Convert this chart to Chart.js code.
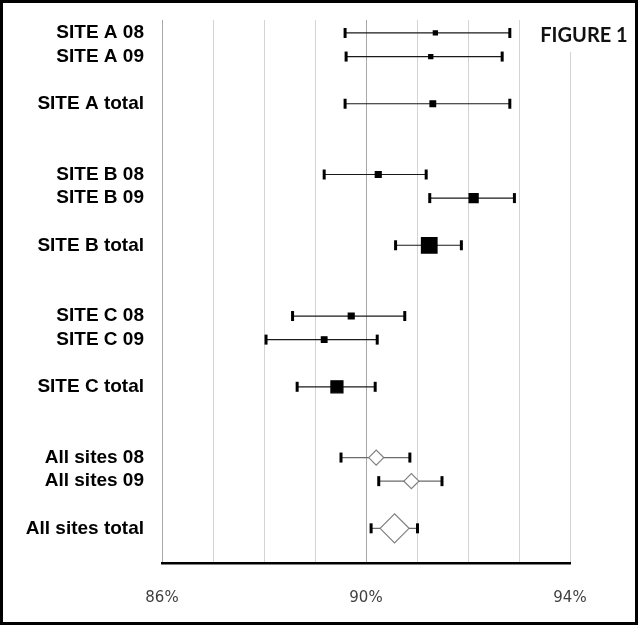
<!DOCTYPE html>
<html>
<head>
<meta charset="utf-8">
<script src="https://cdn.jsdelivr.net/npm/chart.js@4/dist/chart.umd.min.js"></script>
<style>
  body { margin: 0; background: #fff; }
  #wrap { width: 640px; height: 628px; }
</style>
</head>
<body>
<div id="wrap"><canvas id="mycanvas" width="640" height="628"></canvas></div>
<script>
// rows of the forest plot, top to bottom
var rowLabels = ['SITE A 08', 'SITE A 09', 'SITE A total',
                 'SITE B 08', 'SITE B 09', 'SITE B total',
                 'SITE C 08', 'SITE C 09', 'SITE C total',
                 'All sites 08', 'All sites 09', 'All sites total'];
var rowPos = [0, 1, 3, 6, 7, 9, 12, 13, 15, 18, 19, 21];

// point estimate and interval, in %
var estimate = [91.36, 91.27, 91.31, 90.24, 92.11, 91.24, 89.71, 89.18, 89.43, 90.20, 90.89, 90.56];
var lower    = [89.59, 89.61, 89.59, 89.18, 91.25, 90.58, 88.56, 88.04, 88.65, 89.51, 90.25, 90.10];
var upper    = [92.82, 92.67, 92.82, 91.18, 92.91, 91.87, 90.76, 90.22, 90.18, 90.86, 91.49, 91.01];

var xTickLabels = [86, 90, 94];

// marker look
var markerRadius = [2.9, 2.9, 4, 4.2, 6.4, 11, 4.2, 4, 8.5, 7.5, 7.5, 14.5];
var isPooled = rowLabels.map(function(l) { return l.indexOf('All sites') === 0; });

var datasets = [];

datasets.push({
	label: 'estimate',
	data: rowPos.map(function(p, i) { return {x: estimate[i], y: p}; }),
	pointStyle: isPooled.map(function(b) { return b ? 'rectRot' : 'rect'; }),
	pointRadius: markerRadius,
	pointBackgroundColor: isPooled.map(function(b) { return b ? '#fff' : '#000'; }),
	pointBorderColor: isPooled.map(function(b) { return b ? '#7f7f7f' : '#000'; }),
	pointBorderWidth: 1.2,
	showLine: false
});

for (var i in rowPos) {
	datasets.push({
		label: 'ci ' + rowLabels[i],
		data: [{x: lower[i], y: rowPos[i]}, {x: upper[i], y: rowPos[i]}],
		showLine: true,
		borderColor: isPooled[i] ? '#6b6b6b' : '#1a1a1a',
		borderWidth: 1.2,
		pointStyle: 'line',
		pointRotation: 90,
		pointRadius: 5,
		pointBorderWidth: 3,
		pointBorderColor: '#000'
	});
}

var framePlugin = {
	id: 'frame',
	beforeDraw: function(chart) {
		var c = chart.ctx;
		c.save();
		c.fillStyle = '#fff';
		c.fillRect(0, 0, chart.width, chart.height);
		c.restore();
	},
	afterDraw: function(chart) {
		var c = chart.ctx;
		c.save();
		c.fillStyle = '#fff';
		c.fillRect(525, 3, 110, 49);
		c.fillStyle = '#111';
		c.font = 'bold 20px Lato';
		c.textAlign = 'center';
		c.textBaseline = 'middle';
		c.fillText('FIGURE 1', 584, 36);
		c.strokeStyle = '#000';
		c.lineWidth = 3;
		c.strokeRect(1.5, 1.5, 635, 622);
		c.restore();
	}
};

var ctx = document.getElementById('mycanvas');

var forest = new Chart(ctx, {
	type: 'scatter',
	data: { datasets: datasets },
	options: {
		responsive: false,
		animation: false,
		layout: { padding: { left: 0, right: 70, top: 20, bottom: 0 } },
		plugins: { legend: { display: false }, tooltip: { enabled: false } },
		scales: {
			x: {
				type: 'linear',
				min: 86,
				max: 94,
				afterFit: function(scale) {
					scale.height = 65;
					scale.paddingLeft = 0;
					scale.paddingRight = 0;
				},
				ticks: {
					stepSize: 1,
					padding: 26,
					color: '#404040',
					font: { family: 'DejaVu Sans', size: 15 },
					maxRotation: 0,
					autoSkip: false,
					callback: function(v) { return xTickLabels.indexOf(v) >= 0 ? v + '%' : ''; }
				},
				grid: {
					drawTicks: false,
					lineWidth: 1,
					color: function(c) {
						var v = c.tick ? c.tick.value : 0;
						return (v === 86 || v === 90) ? '#a8a8a8' : '#d4d4d4';
					}
				},
				border: { display: true, color: '#000', width: 2.5 }
			},
			y: {
				type: 'linear',
				reverse: true,
				min: -0.55,
				max: 22.47,
				afterFit: function(scale) {
					scale.width = 162;
					scale.paddingTop = 0;
					scale.paddingBottom = 0;
				},
				afterBuildTicks: function(scale) {
					scale.ticks = rowPos.map(function(p) { return {value: p}; });
				},
				ticks: {
					padding: 18,
					color: '#000',
					font: { family: 'Liberation Sans', size: 19, weight: 'bold' },
					callback: function(v) { return rowLabels[rowPos.indexOf(v)]; }
				},
				grid: { display: false, drawTicks: false },
				border: { display: false }
			}
		}
	},
	plugins: [framePlugin]
});
</script>
</body>
</html>
